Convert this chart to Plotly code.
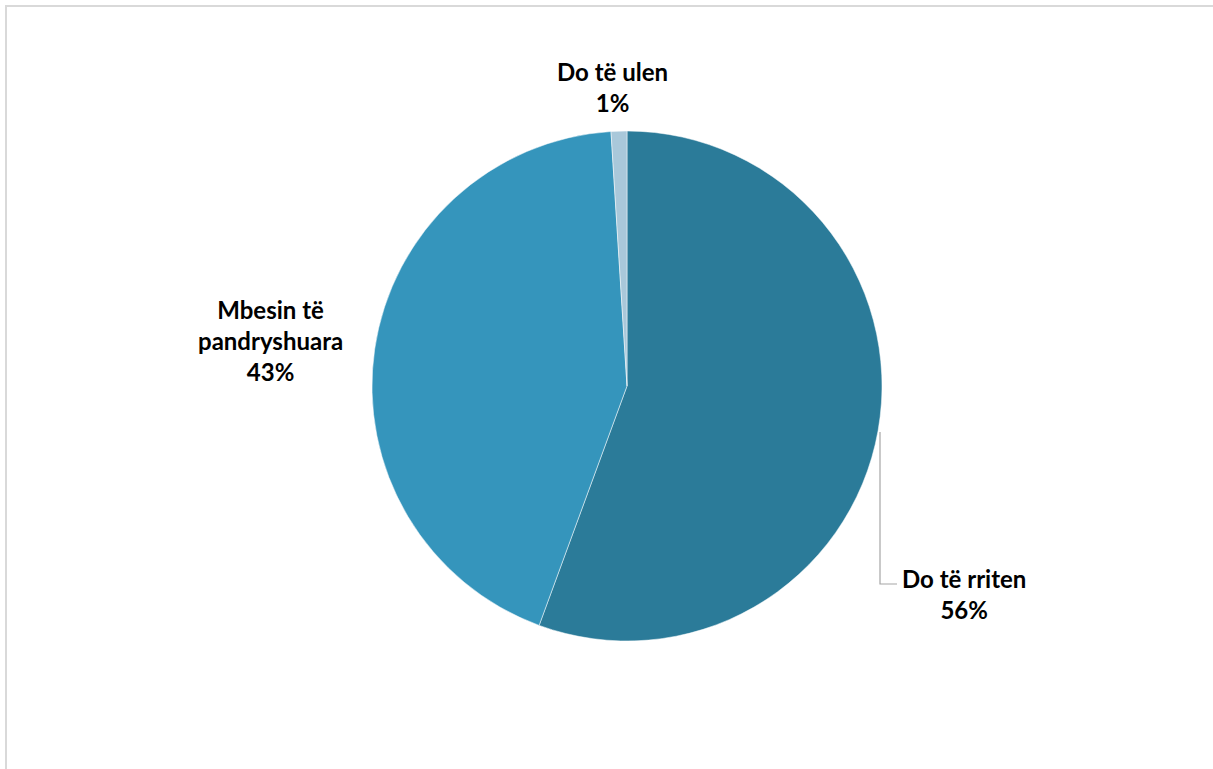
import plotly.graph_objects as go

labels = ["Do të rriten", "Mbesin të pandryshuara", "Do të ulen"]
values = [55.6, 43.4, 1.0]
colors = ["#2B7B99", "#3595BC", "#A9C8DA"]

W, H = 1213, 769

def px(x):
    return x / W

def py(y):
    return 1 - y / H

fig = go.Figure(go.Pie(
    labels=labels, values=values, sort=False, direction="clockwise", rotation=0,
    marker=dict(colors=colors, line=dict(color="white", width=0.5)),
    textinfo="none", hoverinfo="label+percent", showlegend=False,
    domain=dict(x=[px(372), px(882)], y=[py(641), py(131)]),
))

font = dict(family="Lato, Carlito, Calibri, sans-serif", size=24, color="#000000")
total = sum(values)
pct = [f"{round(v / total * 100)}%" for v in values]
label_text = [
    "Do të rriten<br>" + pct[0],
    "Mbesin të<br>pandryshuara<br>" + pct[1],
    "Do të ulen<br>" + pct[2],
]
positions = [(964, 594), (270, 340), (612, 87)]
annotations = []
for t, (x, y) in zip(label_text, positions):
    annotations.append(dict(
        text="<b>" + t + "</b>", x=px(x), y=py(y), xref="paper", yref="paper",
        showarrow=False, xanchor="center", yanchor="middle", align="center", font=font,
    ))

shapes = [
    dict(type="rect", xref="paper", yref="paper", x0=px(6), x1=px(1240), y0=py(6), y1=py(820),
         line=dict(color="#D9D9D9", width=2), fillcolor="rgba(0,0,0,0)", layer="below"),
    dict(type="path", xref="paper", yref="paper",
         path=f"M {px(880)},{py(432)} L {px(880)},{py(584)} L {px(897)},{py(584)}",
         line=dict(color="#A6A6A6", width=1.2)),
]

fig.update_layout(
    width=W, height=H, margin=dict(l=0, r=0, t=0, b=0),
    paper_bgcolor="white", plot_bgcolor="white",
    annotations=annotations, shapes=shapes,
)
fig.write_html("out.html", config={"displayModeBar": False},
               post_script="document.body.style.margin='0';")
